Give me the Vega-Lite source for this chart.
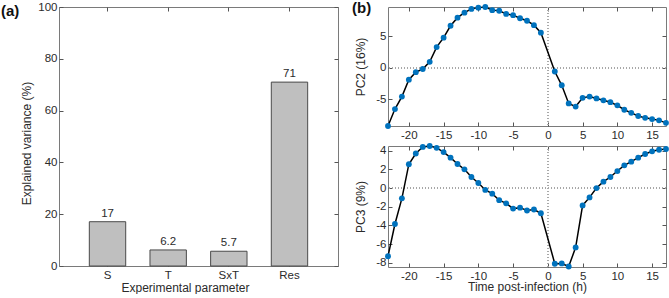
{
  "$schema": "https://vega.github.io/schema/vega-lite/v6.json",
  "padding": {"left": 0, "top": 0, "right": 4, "bottom": 0},
  "background": "white",
  "config": {
    "font": "Liberation Sans",
    "view": {"stroke": "#7a7a7a", "strokeWidth": 1},
    "axis": {
      "domain": false, "grid": false, "tickSize": -4, "tickColor": "#555555",
      "labelColor": "#2b2b2b", "labelFontSize": 11.5, "labelFont": "Liberation Sans",
      "titleColor": "#2b2b2b", "titleFontSize": 12, "titleFontWeight": "normal", "titleFont": "Liberation Sans",
      "labelPadding": 7,
      "labelExpr": "replace(datum.label, '−', '-')"
    },
    "title": {"font": "Liberation Sans", "fontSize": 15, "fontWeight": "bold", "color": "#111111", "anchor": "start", "frame": "group", "offset": 0}
  },
  "datasets": {
    "anova": [
      {"param": "S", "value": 17.1},
      {"param": "T", "value": 6.2},
      {"param": "SxT", "value": 5.7},
      {"param": "Res", "value": 71.0}
    ],
    "pcs": [
      {"t": -23, "pc2": -9.3, "pc3": -7.3},
      {"t": -22, "pc2": -6.6, "pc3": -3.85},
      {"t": -21, "pc2": -4.6, "pc3": -1.1},
      {"t": -20, "pc2": -1.9, "pc3": 2.55},
      {"t": -19, "pc2": -0.7, "pc3": 3.7},
      {"t": -18, "pc2": -0.2, "pc3": 4.4},
      {"t": -17, "pc2": 0.95, "pc3": 4.5},
      {"t": -16, "pc2": 3.3, "pc3": 4.3},
      {"t": -15, "pc2": 4.8, "pc3": 3.85},
      {"t": -14, "pc2": 6.7, "pc3": 3.25},
      {"t": -13, "pc2": 8.0, "pc3": 2.57},
      {"t": -12, "pc2": 8.8, "pc3": 2.0},
      {"t": -11, "pc2": 9.4, "pc3": 1.18},
      {"t": -10, "pc2": 9.6, "pc3": 0.54},
      {"t": -9, "pc2": 9.7, "pc3": -0.2},
      {"t": -8, "pc2": 9.2, "pc3": -0.6},
      {"t": -7, "pc2": 9.1, "pc3": -1.3},
      {"t": -6, "pc2": 8.6, "pc3": -1.64},
      {"t": -5, "pc2": 8.4, "pc3": -2.2},
      {"t": -4, "pc2": 7.9, "pc3": -2.1},
      {"t": -3, "pc2": 7.5, "pc3": -2.4},
      {"t": -2, "pc2": 6.8, "pc3": -2.3},
      {"t": -1, "pc2": 5.6, "pc3": -2.7},
      {"t": 1, "pc2": -0.6, "pc3": -8.1},
      {"t": 2, "pc2": -2.8, "pc3": -8.07},
      {"t": 3, "pc2": -5.7, "pc3": -8.4},
      {"t": 4, "pc2": -6.2, "pc3": -6.35},
      {"t": 5, "pc2": -4.8, "pc3": -1.86},
      {"t": 6, "pc2": -4.6, "pc3": -1.0},
      {"t": 7, "pc2": -4.9, "pc3": 0.0},
      {"t": 8, "pc2": -5.2, "pc3": 0.68},
      {"t": 9, "pc2": -5.5, "pc3": 1.18},
      {"t": 10, "pc2": -6.0, "pc3": 1.82},
      {"t": 11, "pc2": -6.7, "pc3": 2.43},
      {"t": 12, "pc2": -7.2, "pc3": 2.82},
      {"t": 13, "pc2": -7.7, "pc3": 3.25},
      {"t": 14, "pc2": -8.0, "pc3": 3.64},
      {"t": 15, "pc2": -8.2, "pc3": 3.93},
      {"t": 16, "pc2": -8.4, "pc3": 4.1},
      {"t": 17, "pc2": -8.8, "pc3": 4.18}
    ]
  },
  "bounds": "flush",
  "spacing": 50,
  "hconcat": [
    {
      "width": 279,
      "height": 259,
      "title": {"text": "(a)", "dx": -58, "dy": 22},
      "data": {"name": "anova"},
      "layer": [
        {
          "mark": {"type": "bar", "fill": "#bfbfbf", "stroke": "#4a4a4a", "strokeWidth": 1},
          "encoding": {
            "x": {"field": "param", "type": "nominal", "sort": ["S", "T", "SxT", "Res"],
                  "scale": {"paddingInner": 0.4, "paddingOuter": 0.5},
                  "axis": {"labelAngle": 0, "title": "Experimental parameter", "titlePadding": 2, "labelPadding": 7, "titleX": 126}},
            "y": {"field": "value", "type": "quantitative", "scale": {"domain": [0, 100], "nice": false},
                  "axis": {"values": [0, 20, 40, 60, 80, 100], "title": "Explained variance (%)", "titlePadding": 4, "labelPadding": 6, "titleY": 136}}
          }
        },
        {
          "mark": {"type": "text", "baseline": "bottom", "dy": -3, "fontSize": 11.5, "color": "#2b2b2b"},
          "encoding": {
            "x": {"field": "param", "type": "nominal", "sort": ["S", "T", "SxT", "Res"],
                  "scale": {"paddingInner": 0.4, "paddingOuter": 0.5},
                  "axis": {"orient": "top", "labels": false, "title": null}},
            "y": {"field": "value", "type": "quantitative", "scale": {"domain": [0, 100], "nice": false},
                  "axis": {"orient": "right", "labels": false, "title": null, "values": [0, 20, 40, 60, 80, 100]}},
            "text": {"field": "value", "type": "quantitative", "format": ".2r"}
          }
        }
      ],
      "resolve": {"axis": {"x": "independent", "y": "independent"}}
    },
    {
      "bounds": "flush",
      "spacing": 20,
      "vconcat": [
        {
          "width": 278,
          "height": 119,
          "title": {"text": "(b)", "dx": -36, "dy": 16},
          "data": {"name": "pcs"},
          "layer": [
            {
              "mark": {"type": "rule", "stroke": "#a8a8a8", "strokeDash": [1, 2], "strokeWidth": 1},
              "encoding": {
                "y": {"datum": 0, "type": "quantitative", "scale": {"domain": [-9.3, 9.7], "nice": false, "zero": false},
                      "axis": {"orient": "right", "labels": false, "title": null, "values": [-5, 0, 5]}}
              }
            },
            {
              "mark": {"type": "rule", "stroke": "#a8a8a8", "strokeDash": [1, 2], "strokeWidth": 1},
              "encoding": {
                "x": {"datum": 0, "type": "quantitative", "scale": {"domain": [-23, 17], "nice": false, "zero": false},
                      "axis": {"orient": "top", "labels": false, "title": null, "values": [-20, -15, -10, -5, 0, 5, 10, 15]}}
              }
            },
            {
              "mark": {"type": "line", "color": "#000000", "strokeWidth": 1.5},
              "encoding": {
                "x": {"field": "t", "type": "quantitative", "scale": {"domain": [-23, 17], "nice": false, "zero": false},
                      "axis": {"values": [-20, -15, -10, -5, 0, 5, 10, 15], "title": null}},
                "y": {"field": "pc2", "type": "quantitative", "scale": {"domain": [-9.3, 9.7], "nice": false, "zero": false},
                      "axis": {"values": [-5, 0, 5], "title": "PC2 (16%)", "titlePadding": 8, "labelPadding": 6}}
              }
            },
            {
              "mark": {"type": "circle", "color": "#0072BD", "size": 34, "opacity": 1},
              "encoding": {
                "x": {"field": "t", "type": "quantitative", "scale": {"domain": [-23, 17], "nice": false, "zero": false}, "axis": null},
                "y": {"field": "pc2", "type": "quantitative", "scale": {"domain": [-9.3, 9.7], "nice": false, "zero": false}, "axis": null}
              }
            }
          ],
          "resolve": {"axis": {"x": "independent", "y": "independent"}}
        },
        {
          "width": 278,
          "height": 121,
          "data": {"name": "pcs"},
          "layer": [
            {
              "mark": {"type": "rule", "stroke": "#a8a8a8", "strokeDash": [1, 2], "strokeWidth": 1},
              "encoding": {
                "y": {"datum": 0, "type": "quantitative", "scale": {"domain": [-8.45, 4.5], "nice": false, "zero": false},
                      "axis": {"orient": "right", "labels": false, "title": null, "values": [-8, -6, -4, -2, 0, 2, 4]}}
              }
            },
            {
              "mark": {"type": "rule", "stroke": "#a8a8a8", "strokeDash": [1, 2], "strokeWidth": 1},
              "encoding": {
                "x": {"datum": 0, "type": "quantitative", "scale": {"domain": [-23, 17], "nice": false, "zero": false},
                      "axis": {"orient": "top", "labels": false, "title": null, "values": [-20, -15, -10, -5, 0, 5, 10, 15]}}
              }
            },
            {
              "mark": {"type": "line", "color": "#000000", "strokeWidth": 1.5},
              "encoding": {
                "x": {"field": "t", "type": "quantitative", "scale": {"domain": [-23, 17], "nice": false, "zero": false},
                      "axis": {"values": [-20, -15, -10, -5, 0, 5, 10, 15], "title": "Time post-infection (h)", "titlePadding": 0}},
                "y": {"field": "pc3", "type": "quantitative", "scale": {"domain": [-8.45, 4.5], "nice": false, "zero": false},
                      "axis": {"values": [-8, -6, -4, -2, 0, 2, 4], "title": "PC3 (9%)", "titlePadding": 8, "labelPadding": 6}}
              }
            },
            {
              "mark": {"type": "circle", "color": "#0072BD", "size": 34, "opacity": 1},
              "encoding": {
                "x": {"field": "t", "type": "quantitative", "scale": {"domain": [-23, 17], "nice": false, "zero": false}, "axis": null},
                "y": {"field": "pc3", "type": "quantitative", "scale": {"domain": [-8.45, 4.5], "nice": false, "zero": false}, "axis": null}
              }
            }
          ],
          "resolve": {"axis": {"x": "independent", "y": "independent"}}
        }
      ]
    }
  ]
}
